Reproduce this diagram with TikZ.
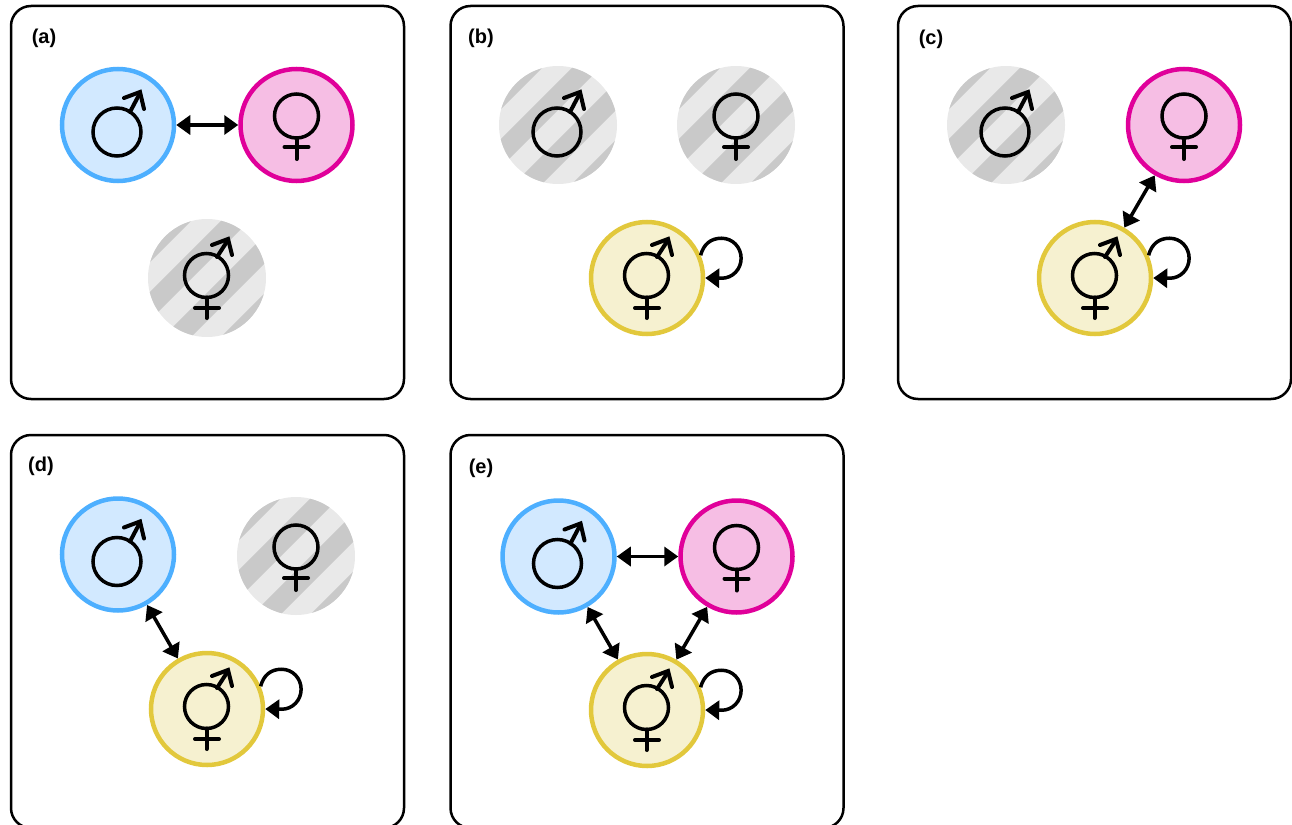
\documentclass[tikz,border=0pt]{standalone}
\usepackage{fontspec}
\setmainfont{Liberation Sans}
\usetikzlibrary{positioning,arrows.meta}
\definecolor{maleline}{HTML}{4DAFFF}
\definecolor{malefill}{HTML}{D2E9FF}
\definecolor{femaleline}{HTML}{E0009A}
\definecolor{femalefill}{HTML}{F6BEE4}
\definecolor{bothline}{HTML}{E2C83C}
\definecolor{bothfill}{HTML}{F6F1D0}
\definecolor{stripelight}{HTML}{E9E9E9}
\definecolor{stripedark}{HTML}{C9C9C9}
\tikzset{%
  panel/.style={
    rectangle,
    draw=black,
    line width=2.5pt,
    rounded corners=20pt,
    minimum width=393pt,
    minimum height=393pt
  },
  tag/.style={
    font=\fontsize{20}{22}\selectfont\bfseries
  },
  male/.style={circle,draw=maleline,fill=malefill,line width=4.5pt,minimum size=112pt},
  female/.style={circle,draw=femaleline,fill=femalefill,line width=4.5pt,minimum size=112pt},
  both/.style={circle,draw=bothline,fill=bothfill,line width=4.5pt,minimum size=112pt},
  absent/.style={
    circle,
    fill=stripelight,
    minimum size=118pt,
    path picture={
      \foreach \s in {-87,-29,29,87}
        \draw[stripedark,line width=20pt,shift={(path picture bounding box.center)}]
          (\s/2-90,\s/2+90) -- (\s/2+90,\s/2-90);
    }
  },
  link/.style={<->,line width=3.5pt},
  selfloop/.style={
    to path={(\tikztostart.23) .. controls +(3,-11) and +(-11,0) .. ++(21,-17)
      .. controls +(11,0) and +(0,-11) .. ++(19.5,20)
      .. controls +(0,11) and +(11,0) .. ++(-19.5,20) -- (\tikztotarget.east)}
  },
  looped/.style={->,line width=3.5pt},
  ring line/.style={line width=3.5pt},
  mark line/.style={line width=4pt,line cap=round},
  pics/marsmark/.style={code={
    \draw[ring line] (-1,7) circle[radius=24];
    \draw[mark line] (12,-13) -- (22,-32);
    \draw[mark line] (6,-27) -- (22,-33) -- (26,-16);
  }},
  pics/venusmark/.style={code={
    \draw[ring line] (0,-9) circle[radius=22];
    \draw[mark line] (0,13) -- (0,34);
    \draw[mark line] (-12,22) -- (12,22);
  }},
  pics/bothmark/.style={code={
    \draw[ring line] (-0.5,-2.5) circle[radius=22];
    \draw[mark line] (-0.5,19.5) -- (-0.5,40);
    \draw[mark line] (-12,30) -- (12,30);
    \draw[mark line] (10,-21) -- (21,-38);
    \draw[mark line] (5,-33) -- (21,-39) -- (25,-23);
  }},
}

\begin{document}
\begin{tikzpicture}[x=1pt,y=-1pt,>={Triangle[length=14pt,width=19pt]}]
  \useasboundingbox (0,0) rectangle (1292,824);

  % (a)
  \node[panel] (pa) at (207.5,202.5) {};
  \node[tag] (ta) at (44,38) {(a)};
  \node[male] (ma) at (118,125) {};
  \node[female,right=62pt of ma] (fa) {};
  \node[absent] (ba) at (207,278) {};
  \pic at (ma) {marsmark};
  \pic at (fa) {venusmark};
  \pic at (ba) {bothmark};
  \draw[link] (ma) -- (fa);

  % (b)
  \node[panel] (pb) at (647,202.5) {};
  \node[tag] (tb) at (481,38) {(b)};
  \node[absent] (mb) at (558,125) {};
  \node[absent] (fb) at (736,125) {};
  \node[both] (bb) at (647,278) {};
  \pic at (mb) {marsmark};
  \pic at (fb) {venusmark};
  \pic at (bb) {bothmark};
  \draw[looped] (bb) to[selfloop] (bb);

  % (c)
  \node[panel] (pc) at (1094.5,202.5) {};
  \node[tag] (tc) at (931,39) {(c)};
  \node[absent] (mc) at (1006,125) {};
  \node[female] (fc) at (1184,125) {};
  \node[both] (bc) at (1095,278) {};
  \pic at (mc) {marsmark};
  \pic at (fc) {venusmark};
  \pic at (bc) {bothmark};
  \draw[link] (fc) -- (bc);
  \draw[looped] (bc) to[selfloop] (bc);

  % (d)
  \node[panel] (pd) at (207.5,631.5) {};
  \node[tag] (td) at (41,466) {(d)};
  \node[male] (md) at (118,554.5) {};
  \node[absent] (fd) at (296,556) {};
  \node[both] (bd) at (207,709) {};
  \pic at (md) {marsmark};
  \pic at (fd) {venusmark};
  \pic at (bd) {bothmark};
  \draw[link] (md) -- (bd);
  \draw[looped] (bd) to[selfloop] (bd);

  % (e)
  \node[panel] (pe) at (647,631.5) {};
  \node[tag] (te) at (481,468) {(e)};
  \node[male] (me) at (558.5,556.5) {};
  \node[female,right=61.5pt of me] (fe) {};
  \node[both] (be) at (647,710) {};
  \pic at (me) {marsmark};
  \pic at (fe) {venusmark};
  \pic at (be) {bothmark};
  \draw[link] (me) -- (fe);
  \draw[link] (me) -- (be);
  \draw[link] (fe) -- (be);
  \draw[looped] (be) to[selfloop] (be);
\end{tikzpicture}
\end{document}
